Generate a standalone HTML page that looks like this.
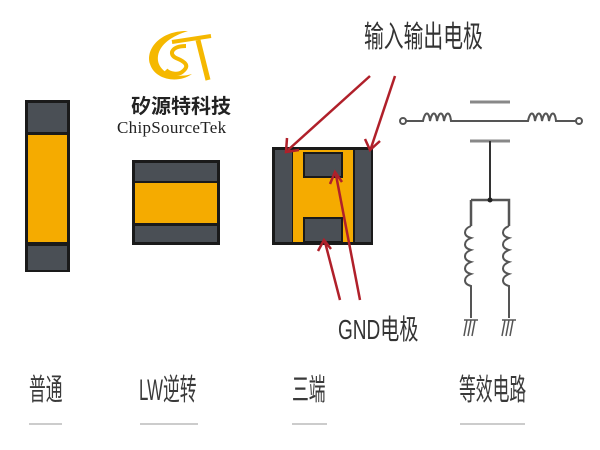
<!DOCTYPE html><html><head><meta charset="utf-8"><style>
body{margin:0;width:600px;height:450px;background:#fff;overflow:hidden;position:relative;font-family:"Liberation Sans","Noto Sans CJK SC",sans-serif}
.t{position:absolute;white-space:nowrap}
.lb{position:absolute;white-space:nowrap;top:372px;font-size:30px;color:#3a3a3a;transform:scaleX(0.56);transform-origin:left;line-height:38px}
.ul{position:absolute;top:423px;height:2px;background:#ccc}
</style></head><body>
<svg width="600" height="450" style="position:absolute;left:0;top:0">
<rect x="25" y="100" width="45" height="172" fill="#1a1a1a"/>
<rect x="28" y="103" width="39" height="29" fill="#4a4f55"/>
<rect x="28" y="135" width="39" height="107" fill="#f5ab00"/>
<rect x="28" y="246" width="39" height="24" fill="#4a4f55"/>
<rect x="132" y="160" width="88" height="85" fill="#1a1a1a"/>
<rect x="135" y="163" width="82" height="18" fill="#4a4f55"/>
<rect x="135" y="183" width="82" height="40" fill="#f5ab00"/>
<rect x="135" y="226" width="82" height="16" fill="#4a4f55"/>
<rect x="272" y="147" width="101" height="98" fill="#1a1a1a"/>
<rect x="275" y="150" width="17" height="92" fill="#4a4f55"/>
<rect x="355" y="150" width="16" height="92" fill="#4a4f55"/>
<rect x="293" y="150" width="60" height="92" fill="#f5ab00"/>
<rect x="303" y="152" width="40" height="26" fill="#1a1a1a"/>
<rect x="305" y="154" width="36" height="22" fill="#4a4f55"/>
<rect x="303" y="217" width="40" height="25" fill="#1a1a1a"/>
<rect x="305" y="219" width="36" height="22" fill="#4a4f55"/>
<g stroke="#b0202a" stroke-width="2.5" fill="none">
<line x1="370" y1="76" x2="288" y2="150"/><polyline points="287,138 286,152 299,150"/>
<line x1="395" y1="76" x2="371" y2="148"/><polyline points="365,139 370,150 380,141"/>
<line x1="360" y1="300" x2="336" y2="175"/><polyline points="330,184 335,172 342,182"/>
<line x1="340" y1="300" x2="325" y2="242"/><polyline points="318,251 324,240 331,249"/>
</g>
<g stroke="#555" stroke-width="2" fill="none">
<circle cx="403" cy="121" r="3"/><circle cx="579" cy="121" r="3"/>
<path d="M406,121 H423 c2,-10 6,-10 7,0 c2,-10 6,-10 7,0 c2,-10 6,-10 7,0 c2,-10 6,-10 7,0 H528 c2,-10 6,-10 7,0 c2,-10 6,-10 7,0 c2,-10 6,-10 7,0 c2,-10 6,-10 7,0 H576"/>
<line x1="470" y1="102" x2="510" y2="102" stroke-width="3" stroke="#888"/>
<line x1="470" y1="141" x2="510" y2="141" stroke-width="3" stroke="#888"/>
<line x1="490" y1="141" x2="490" y2="200" stroke="#333"/>
<path d="M471,200 H509 V226 M471,200 V226" stroke-width="2.5"/>
<path d="M471,226 c-8,3 -8,10 0,12 c-8,3 -8,10 0,12 c-8,3 -8,10 0,12 c-8,3 -8,10 0,12 c-8,3 -8,10 0,12 V318"/>
<path d="M509,226 c-8,3 -8,10 0,12 c-8,3 -8,10 0,12 c-8,3 -8,10 0,12 c-8,3 -8,10 0,12 c-8,3 -8,10 0,12 V318"/>
<path d="M464,320 H478 M467,320 l-3,16 M471,320 l-3,16 M475,320 l-3,16 M502,320 H516 M505,320 l-3,16 M509,320 l-3,16 M513,320 l-3,16" stroke-width="1.5"/>
</g>
<circle cx="490" cy="200" r="2.5" fill="#222"/>
<path d="M188,31 C162,30 145,48 150,64 C155,80 178,84 192,74 C172,80 156,70 158,56 C160,44 172,36 188,31 Z" fill="#f5b800"/>
<path d="M186,46 C172,46 168,54 176,58 C186,62 190,66 182,72 C178,75 170,74 166,70" stroke="#f5b800" stroke-width="4" fill="none"/>
<path d="M172,42 L211,36" stroke="#f5b800" stroke-width="4"/>
<path d="M198,40 L208,80" stroke="#f5b800" stroke-width="5"/>
</svg>
<div class="t" style="left:131px;top:90px;font-size:20px;font-weight:bold;color:#222">矽源特科技</div>
<div class="t" style="left:117px;top:118px;font-size:17px;font-family:'Liberation Serif','Noto Serif CJK SC',serif;color:#222;letter-spacing:0.3px">ChipSourceTek</div>
<div class="t" style="left:364px;top:12px;font-size:30px;color:#333;transform:scaleX(0.66);transform-origin:left">输入输出电极</div>
<div class="t" style="left:338px;top:308px;font-size:28px;color:#333;transform:scaleX(0.68);transform-origin:left">GND电极</div>
<div class="lb" style="left:29px">普通</div>
<div class="lb" style="left:139px">LW逆转</div>
<div class="lb" style="left:292px">三端</div>
<div class="lb" style="left:459px">等效电路</div>
<div class="ul" style="left:29px;width:33px"></div>
<div class="ul" style="left:140px;width:58px"></div>
<div class="ul" style="left:292px;width:35px"></div>
<div class="ul" style="left:460px;width:65px"></div>
</body></html>
